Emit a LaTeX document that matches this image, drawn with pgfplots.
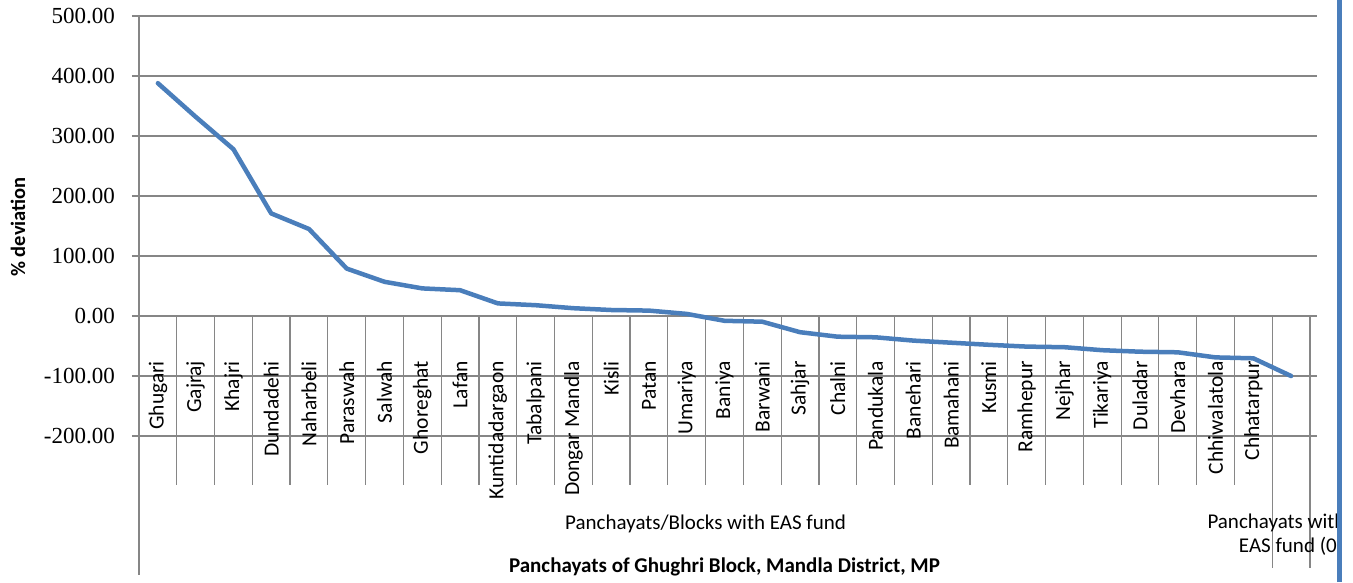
\documentclass[border=0pt]{standalone}
\usepackage{pgfplots}
\pgfplotsset{compat=1.18}
\usepackage{fontspec}
\setmainfont{Carlito}
\newfontfamily\tickfont{Liberation Serif}
\definecolor{linecol}{RGB}{74,126,187}
\definecolor{gridcol}{RGB}{134,134,134}
\begin{document}
\begin{tikzpicture}
\useasboundingbox (0,0) rectangle (1353pt,582pt);
\begin{axis}[
  at={(139pt,146pt)}, anchor=south west,
  scale only axis, width=1171pt, height=420pt,
  xmin=0, xmax=31, ymin=-200, ymax=500,
  axis line style={draw=none},
  ytick={-200,-100,...,500},
  ymajorgrids, grid style={gridcol, line width=1.2pt},
  tick align=outside, major tick length=7pt,
  ytick style={gridcol, line width=1.2pt},
  xtick={0.5,1.5,...,30.5},
  xtick style={draw=none},
  xticklabels={Ghugari,Gajraj,Khajri,Dundadehi,Naharbeli,Paraswah,Salwah,Ghoreghat,Lafan,Kuntidadargaon,Tabalpani,Dongar Mandla,Kisli,Patan,Umariya,Baniya,Barwani,Sahjar,Chalni,Pandukala,Banehari,Bamahani,Kusmi,Ramhepur,Nejhar,Tikariya,Duladar,Devhara,Chhiwalatola,Chhatarpur,{}},
  xticklabel style={rotate=90, anchor=east, inner sep=0pt, font=\fontsize{21.5}{21.5}\selectfont},
  xticklabel shift=-82pt,
  yticklabel style={font=\tickfont\fontsize{23}{23}\selectfont, inner sep=0pt, xshift=-17pt,
    /pgf/number format/fixed, /pgf/number format/fixed zerofill,
    /pgf/number format/precision=2, /pgf/number format/assume math mode=true},
  clip=false,
]
\pgfplotsinvokeforeach{1,...,29}{\draw[gridcol, line width=1.2pt] (axis cs:#1,0) -- (axis cs:#1,-281.7);}
\draw[gridcol, line width=1.2pt] (axis cs:0,500) -- (axis cs:0,-431.7);
\draw[gridcol, line width=1.2pt] (axis cs:30,0) -- (axis cs:30,-420);
\draw[gridcol, line width=1.2pt] (axis cs:31,0) -- (axis cs:31,-420);
\draw[gridcol, line width=1.2pt] (axis cs:0,0) -- (axis cs:31,0);
\addplot[linecol, line width=4.5pt, line join=round, line cap=round] coordinates {
(0.5,388) (1.5,332) (2.5,278) (3.5,171) (4.5,145) (5.5,79) (6.5,57) (7.5,46)
(8.5,43) (9.5,21) (10.5,18) (11.5,13) (12.5,10) (13.5,9) (14.5,3.5) (15.5,-8)
(16.5,-9.5) (17.5,-27) (18.5,-34.5) (19.5,-35.5) (20.5,-41) (21.5,-44.5) (22.5,-48)
(23.5,-51) (24.5,-52) (25.5,-57) (26.5,-59.5) (27.5,-60.5) (28.5,-69) (29.5,-70.5)
(30.5,-100)};
\node[font=\fontsize{21}{21}\selectfont] at (axis cs:15,-346) {Panchayats/Blocks with EAS fund};
\node[font=\fontsize{21}{24}\selectfont, align=center] at (axis cs:30.5,-365) {Panchayats without\\EAS fund (0)};
\node[font=\bfseries\fontsize{21}{21}\selectfont] at (axis cs:15.5,-418.3) {Panchayats of Ghughri Block, Mandla District, MP};
\end{axis}
\node[rotate=90, font=\bfseries\fontsize{20.5}{20.5}\selectfont] at (18pt,355pt) {\% deviation};
\fill[white] (1337pt,0pt) rectangle (1353pt,582pt);
\draw[linecol, line width=5pt] (1339.5pt,0pt) -- (1339.5pt,582pt);
\end{tikzpicture}
\end{document}
